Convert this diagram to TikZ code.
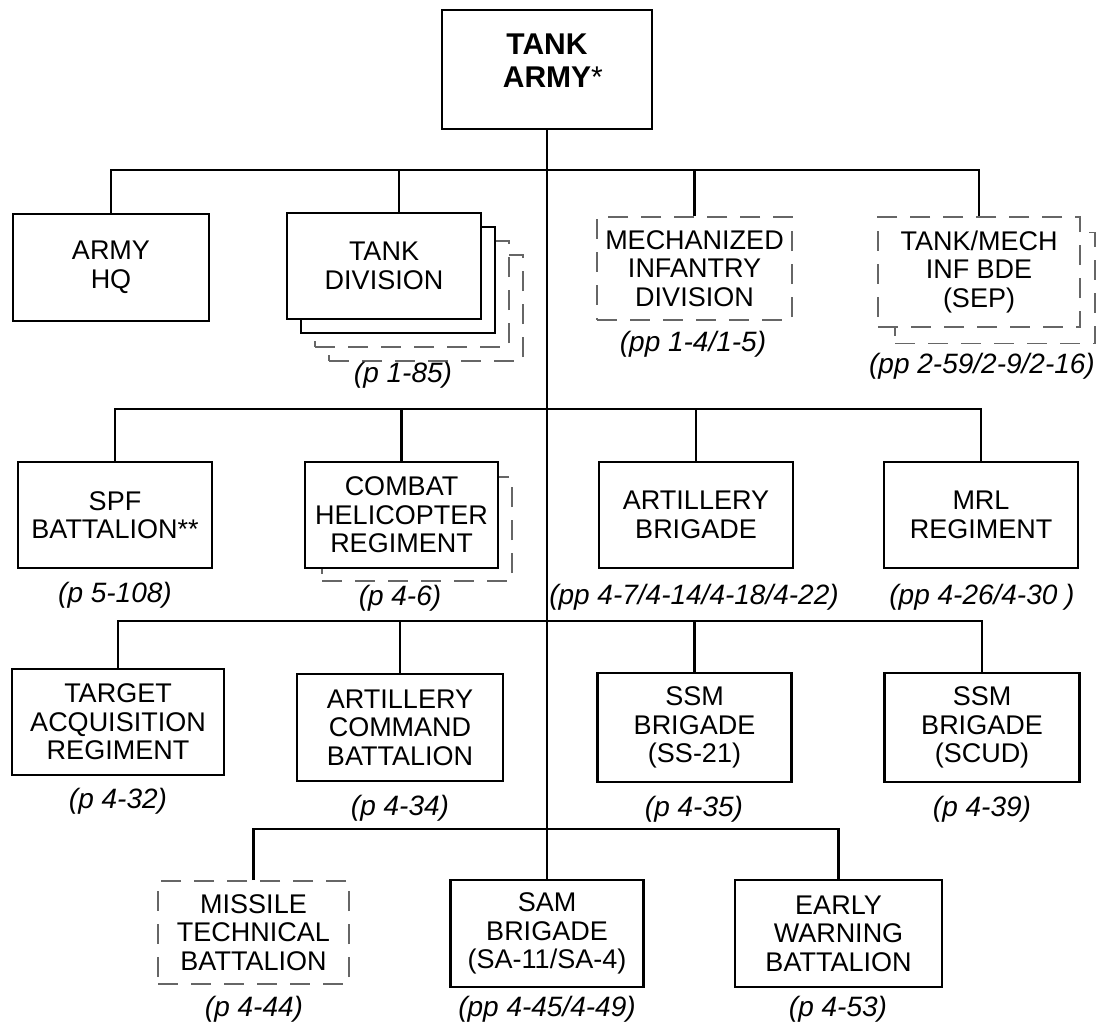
\documentclass[tikz,border=0pt]{standalone}
\usepackage{fontspec}
\setmainfont{Liberation Sans}
\usepackage{xcolor}
\usepackage{tikz}

\definecolor{dashgray}{gray}{0.4}

\begin{document}
\begin{tikzpicture}[x=1pt, y=-1pt,
    unit/.style={draw, line width=2.6pt, fill=white, inner sep=0pt, align=center,
        minimum width=194pt, minimum height=106pt,
        font=\fontsize{27}{28.5}\selectfont},
    dashunit/.style={unit, draw=dashgray, line width=1.6pt, dash pattern=on 20pt off 13pt},
    link/.style={line width=2.2pt},
    pageref/.style={inner sep=0pt, font=\fontsize{28}{29}\selectfont\itshape}]

    \useasboundingbox (0,0) rectangle (1101,1025);

    % =================================================================
    % 1. TOP: TANK ARMY
    % =================================================================
    \node[unit, minimum width=210pt, minimum height=119pt,
        font=\fontsize{30}{33}\selectfont\bfseries] (army) at (547,69.5)
        {TANK\\ARMY\rlap{\normalfont*}\\[-15pt]};

    % =================================================================
    % 2. FIRST ROW
    % =================================================================
    \node[unit, minimum width=196pt, minimum height=107pt] (hq) at (111,267.5) {ARMY\\HQ};

    % tank division: stack of boxes, back to front
    \node[dashunit] (tdivd) at (426,308) {};
    \node[dashunit] (tdivc) at (412,294) {};
    \node[unit] (tdivb) at (398,280) {};
    \node[unit] (tdiv) at (384,266) {TANK\\DIVISION};
    \coordinate (tdivtop) at ([xshift=15pt]tdiv.north);

    \node[dashunit, minimum width=195pt, minimum height=103pt] (mech) at (694.5,268.5)
        {MECHANIZED\\INFANTRY\\DIVISION};

    \node[dashunit, minimum width=200pt, minimum height=111pt] (tbdeb) at (995,288) {};
    \node[dashunit, minimum width=202pt, minimum height=110pt] (tbde) at (979,272)
        {TANK/MECH\\INF BDE\\(SEP)};

    \node[pageref] (tdivref) at (403,375) {(p 1-85)};
    \node[pageref] (mechref) at (693,344) {(pp 1-4/1-5)};
    \node[pageref] (tbderef) at (982,366) {(pp 2-59/2-9/2-16)};

    % =================================================================
    % 3. SECOND ROW
    % =================================================================
    \node[unit] (spf) at (115,515) {SPF\\BATTALION**};

    \node[dashunit, minimum width=190pt, minimum height=104pt] (helib) at (417,529) {};
    \node[unit, minimum width=193pt] (heli) at (401.5,515) {COMBAT\\HELICOPTER\\REGIMENT};

    \node[unit] (artb) at (696,515) {ARTILLERY\\BRIGADE};
    \node[unit] (mrl) at (981,515) {MRL\\REGIMENT};

    \node[pageref] (spfref) at (115,595) {(p 5-108)};
    \node[pageref] (heliref) at (400,598) {(p 4-6)};
    \node[pageref] (artbref) at (694,597) {(pp 4-7/4-14/4-18/4-22)};
    \node[pageref] (mrlref) at (982,597) {(pp 4-26/4-30 )};

    % =================================================================
    % 4. THIRD ROW
    % =================================================================
    \node[unit, minimum width=212pt] (tar) at (118,722) {TARGET\\ACQUISITION\\REGIMENT};
    \node[unit, minimum width=206pt, minimum height=107pt] (acmd) at (400,727.5)
        {ARTILLERY\\COMMAND\\BATTALION};
    \node[unit, minimum height=109pt] (ssma) at (694.5,727.5) {SSM\\BRIGADE\\(SS-21)};
    \node[unit, minimum width=195pt, minimum height=109pt] (ssmb) at (982,727.5)
        {SSM\\BRIGADE\\(SCUD)};

    \node[pageref] (tarref) at (118,801) {(p 4-32)};
    \node[pageref] (acmdref) at (400,808) {(p 4-34)};
    \node[pageref] (ssmaref) at (694,809) {(p 4-35)};
    \node[pageref] (ssmbref) at (982,809) {(p 4-39)};

    % =================================================================
    % 5. FOURTH ROW
    % =================================================================
    \node[dashunit, minimum width=191pt, minimum height=103pt] (mtb) at (253.5,932.5)
        {MISSILE\\TECHNICAL\\BATTALION};
    \node[unit, minimum width=193pt, minimum height=107pt] (sam) at (547,933.5)
        {SAM\\BRIGADE\\(SA-11/SA-4)};
    \node[unit, minimum width=207pt, minimum height=107pt] (ewb) at (838.5,933.5)
        {EARLY\\WARNING\\BATTALION};

    \node[pageref] (mtbref) at (254,1009) {(p 4-44)};
    \node[pageref] (samref) at (547,1009) {(pp 4-45/4-49)};
    \node[pageref] (ewbref) at (838,1009) {(p 4-53)};

    % =================================================================
    % 6. CONNECTORS
    % =================================================================
    \coordinate (bus1) at (547,170);
    \coordinate (bus2) at (547,409);
    \coordinate (bus3) at (547,621);
    \coordinate (bus4) at (547,829);

    \draw[link] (army.south) -- (sam.north);

    \draw[link] (hq.north) |- (bus1) -| (tbde.north);
    \draw[link] (tdivtop) -- (tdivtop |- bus1);
    \draw[link] (mech.north) -- (mech.north |- bus1);

    \draw[link] (spf.north) |- (bus2) -| (mrl.north);
    \draw[link] (heli.north) -- (heli.north |- bus2);
    \draw[link] (artb.north) -- (artb.north |- bus2);

    \draw[link] (tar.north) |- (bus3) -| (ssmb.north);
    \draw[link] (acmd.north) -- (acmd.north |- bus3);
    \draw[link] (ssma.north) -- (ssma.north |- bus3);

    \draw[link] (mtb.north) |- (bus4) -| (ewb.north);

\end{tikzpicture}
\end{document}
